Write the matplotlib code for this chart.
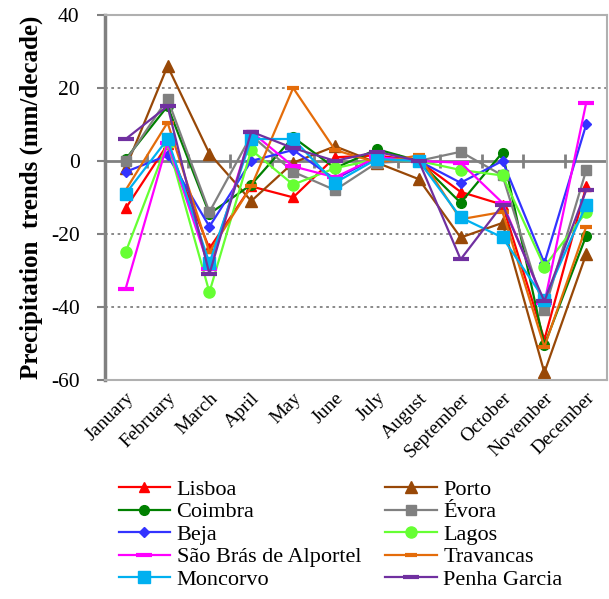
import matplotlib.pyplot as plt
import numpy as np

plt.rcParams['font.family'] = ['Liberation Serif', 'DejaVu Serif']
plt.rcParams['axes.unicode_minus'] = False

months = ["January", "February", "March", "April", "May", "June", "July",
          "August", "September", "October", "November", "December"]

lisboa   = [-13, 4.5, -24, -7, -10, 1, 1.5, 0, -8.5, -12, -49, -7]
porto    = [-2, 26, 2, -11, -0.5, 4, -0.5, -5, -21, -17, -58, -25.5]
coimbra  = [0.5, 15, -14.5, -6.5, 6.5, -2, 3.2, 0, -11.5, 2.3, -50.5, -20.5]
evora    = [0, 17, -14, 7, -3, -8, -0.5, 0, 2.5, -4, -41, -2.5]
beja     = [-3, 1.5, -18, 0, 3, -5, 1, 0, -6, 0, -28, 10]
lagos    = [-25, 5, -36, 3, -6.5, -2, 0.5, 0, -2.5, -4, -29, -14]
saobras  = [-35, 5, -29.5, 8, -1.5, -4.5, 1, 0, -0.5, -11.5, -39, 16]
travanc  = [-8, 10.5, -25, -7, 20, 3, -0.5, 1.5, -16, -14, -51, -18]
moncorvo = [-9, 6, -28, 6, 6, -6, 0.5, 0, -15.5, -21, -38, -12]
penha    = [6, 15, -31, 8, 3.5, 0, 2.5, 0, -27, -12, -38.5, -8]

names = ["Lisboa", "Porto", "Coimbra", "Évora", "Beja", "Lagos",
         "São Brás de Alportel", "Travancas", "Moncorvo", "Penha Garcia"]
series = [lisboa, porto, coimbra, evora, beja, lagos, saobras, travanc, moncorvo, penha]
colors = ['#FF0000', '#984807', '#008000', '#808080', '#3333FF', '#66FF33',
          '#FF00FF', '#E46C0A', '#00B0F0', '#7030A0']
markers = ['^', '^', 'o', 's', 'D', 'o', '_', '_', 's', '_']
msizes = [7, 8, 7, 7, 5.5, 8, 11, 8, 8, 11]

fig = plt.figure(figsize=(6.09, 5.99), dpi=100)
ax = fig.add_axes([0.172, 0.366, 0.825, 0.609])

x = np.arange(len(months))
handles = []
for s, n, c, m, ms in zip(series, names, colors, markers, msizes):
    mew = 3 if m == '_' else 1
    h, = ax.plot(x, s, color=c, marker=m, markersize=ms, markeredgewidth=mew,
                 markeredgecolor=c, lw=1.6, label=n)
    handles.append(h)

ax.set_xlim(-0.5, 11.5)
ax.set_ylim(-60, 40)
ax.set_yticks([-60, -40, -20, 0, 20, 40])
ax.tick_params(axis='y', labelsize=15.5, length=6, width=1.5, color='#808080', pad=12)
for yv in [-40, -20, 20, 40]:
    ax.axhline(yv, color='#808080', ls=(0, (1.5, 2)), lw=1.3, zorder=0)

# category axis crossing at zero
ax.axhline(0, color='#808080', lw=2, zorder=0.5)
ax.plot(np.arange(0.5, 11.5, 1), np.zeros(11), ls='none', marker='|',
        markersize=10, mew=2, color='#808080', zorder=0.5)

ax.set_xticks(x)
ax.set_xticklabels(months, rotation=45, ha='right', va='top',
                   rotation_mode='anchor', fontsize=14)
ax.tick_params(axis='x', length=0, pad=7)

for sp in ['top', 'right', 'bottom']:
    ax.spines[sp].set_color('#B0B0B0')
    ax.spines[sp].set_linewidth(1.5)
ax.spines['left'].set_color('#808080')
ax.spines['left'].set_linewidth(2.5)

ax.set_ylabel('Precipitation  trends (mm/decade)', fontsize=18, fontweight='bold', labelpad=6)

order = [0, 2, 4, 6, 8, 1, 3, 5, 7, 9]
fig.legend([handles[i] for i in order], [names[i] for i in order], ncol=2,
           loc='upper left', bbox_to_anchor=(0.195, 0.200), frameon=False,
           fontsize=16, handlelength=2.3, handletextpad=0.3, columnspacing=1.1,
           labelspacing=0.09, borderpad=0, borderaxespad=0)

plt.savefig('out.png', dpi=100)
